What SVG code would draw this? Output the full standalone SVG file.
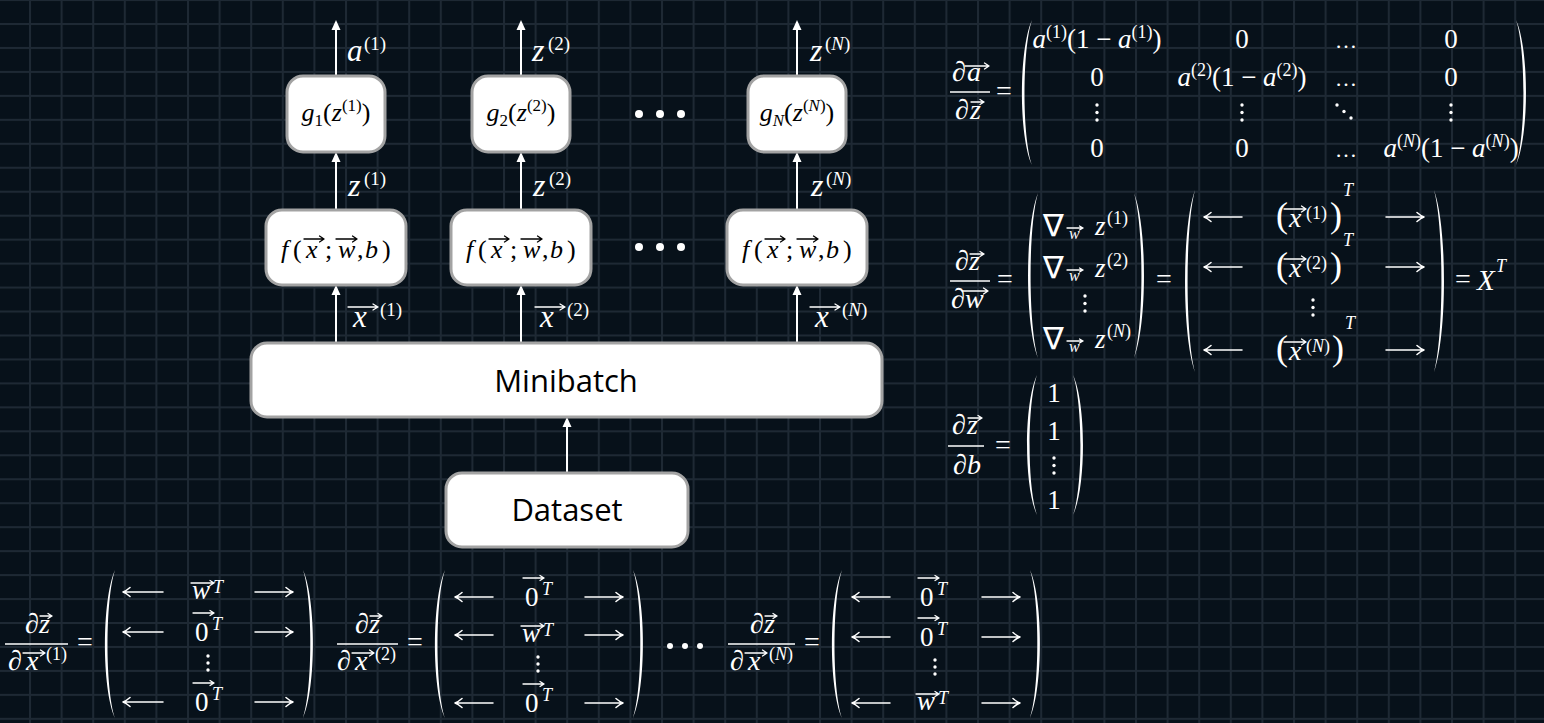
<svg xmlns="http://www.w3.org/2000/svg" width="1544" height="723" viewBox="0 0 1544 723">
<defs>
<style>
.t{font-family:"Liberation Serif","DejaVu Serif",serif;fill:#fff}
.k{font-family:"Liberation Serif","DejaVu Serif",serif;fill:#000}
.i{font-style:italic}
.nb{font-family:"DejaVu Sans","DejaVu Serif",serif;fill:#fff;font-size:31px}
.sans{font-family:"Open Sans","Liberation Sans",sans-serif;fill:#000;font-size:31px}
.box{fill:#fff;stroke:#a3a3a3;stroke-width:3}
.flow{stroke:#fff;stroke-width:2;fill:none;marker-end:url(#ah)}
.va{stroke:#fff;stroke-width:1.3;fill:none;stroke-linecap:round;stroke-linejoin:round}
.vak{stroke:#000;stroke-width:1.3;fill:none;stroke-linecap:round;stroke-linejoin:round}
.ar{stroke:#fff;stroke-width:1.5;fill:none;stroke-linecap:round;stroke-linejoin:round}
.bar{stroke:#fff;stroke-width:1.4}
.bp{fill:#fff}
.dot{fill:#fff}
</style>
<pattern id="grid" width="31.6" height="23.96" patternUnits="userSpaceOnUse" x="29" y="23">
<rect width="31.6" height="23.96" fill="#07111a"/>
<rect width="2" height="23.96" fill="#1e2934"/>
<rect width="31.6" height="2" fill="#1e2934"/>
</pattern>
<marker id="ah" markerWidth="10" markerHeight="10" refX="8" refY="5" orient="auto" markerUnits="userSpaceOnUse">
<path d="M0,0.5 L10,5 L0,9.5 Z" fill="#fff"/>
</marker>
</defs>
<rect width="1544" height="723" fill="url(#grid)"/>

<g id="connectors">
<line class="flow" x1="336" y1="343" x2="336" y2="287"/>
<line class="flow" x1="336" y1="210" x2="336" y2="154"/>
<line class="flow" x1="336" y1="76" x2="336" y2="22"/>
<line class="flow" x1="521" y1="343" x2="521" y2="287"/>
<line class="flow" x1="521" y1="210" x2="521" y2="154"/>
<line class="flow" x1="521" y1="76" x2="521" y2="22"/>
<line class="flow" x1="797" y1="343" x2="797" y2="287"/>
<line class="flow" x1="797" y1="210" x2="797" y2="154"/>
<line class="flow" x1="797" y1="76" x2="797" y2="22"/>
<line class="flow" x1="567" y1="473" x2="567" y2="419"/>
</g>

<g id="edge-labels">
<text class="t" y="61"><tspan class="i" x="347" font-size="31">a</tspan><tspan x="364" dy="-11" font-size="19">(1)</tspan></text>
<text class="t" y="61"><tspan class="i" x="532" font-size="32">z</tspan><tspan x="548" dy="-11" font-size="19">(2)</tspan></text>
<text class="t" y="61"><tspan class="i" x="810" font-size="32">z</tspan><tspan x="825" dy="-11" font-size="19">(</tspan><tspan class="i" font-size="19">N</tspan><tspan font-size="19">)</tspan></text>
<text class="t" y="196"><tspan class="i" x="348" font-size="32">z</tspan><tspan x="364" dy="-11" font-size="19">(1)</tspan></text>
<text class="t" y="196"><tspan class="i" x="533" font-size="32">z</tspan><tspan x="549" dy="-11" font-size="19">(2)</tspan></text>
<text class="t" y="196"><tspan class="i" x="811" font-size="32">z</tspan><tspan x="826" dy="-11" font-size="19">(</tspan><tspan class="i" font-size="19">N</tspan><tspan font-size="19">)</tspan></text>
<text class="t" y="327"><tspan class="i" x="353" font-size="31">x</tspan><tspan x="380" dy="-11" font-size="19">(1)</tspan></text>
<text class="t" y="327"><tspan class="i" x="540" font-size="31">x</tspan><tspan x="567" dy="-11" font-size="19">(2)</tspan></text>
<text class="t" y="327"><tspan class="i" x="815" font-size="31">x</tspan><tspan x="842" dy="-11" font-size="19">(</tspan><tspan class="i" font-size="19">N</tspan><tspan font-size="19">)</tspan></text>
<path class="va" d="M348,307 H378 M373,304 L378,307 L373,310"/>
<path class="va" d="M535,307 H565 M560,304 L565,307 L560,310"/>
<path class="va" d="M810,307 H840 M835,304 L840,307 L835,310"/>
<circle class="dot" cx="639" cy="114" r="4"/><circle class="dot" cx="660" cy="114" r="4"/><circle class="dot" cx="681" cy="114" r="4"/>
<circle class="dot" cx="639" cy="247" r="4"/><circle class="dot" cx="660" cy="247" r="4"/><circle class="dot" cx="681" cy="247" r="4"/>
</g>

<g id="node-g1">
<rect class="box" x="287" y="76" width="98" height="76" rx="16"/>
<text class="k" x="336" y="121" text-anchor="middle" font-size="26"><tspan class="i">g</tspan><tspan font-size="17" dy="5">1</tspan><tspan dy="-5">(</tspan><tspan class="i">z</tspan><tspan font-size="17" dy="-10">(1)</tspan><tspan dy="10">)</tspan></text>
</g>
<g id="node-g2">
<rect class="box" x="472" y="76" width="98" height="76" rx="16"/>
<text class="k" x="521" y="121" text-anchor="middle" font-size="26"><tspan class="i">g</tspan><tspan font-size="17" dy="5">2</tspan><tspan dy="-5">(</tspan><tspan class="i">z</tspan><tspan font-size="17" dy="-10">(2)</tspan><tspan dy="10">)</tspan></text>
</g>
<g id="node-gN">
<rect class="box" x="748" y="76" width="98" height="76" rx="16"/>
<text class="k" x="797" y="121" text-anchor="middle" font-size="26"><tspan class="i">g</tspan><tspan class="i" font-size="17" dy="5">N</tspan><tspan dy="-5">(</tspan><tspan class="i">z</tspan><tspan font-size="17" dy="-10">(</tspan><tspan class="i" font-size="17">N</tspan><tspan font-size="17">)</tspan><tspan dy="10">)</tspan></text>
</g>

<g id="node-f1">
<rect class="box" x="266" y="210" width="140" height="75" rx="16"/>
<text class="k" y="258" font-size="26"><tspan class="i" x="281">f</tspan><tspan x="293">(</tspan><tspan class="i" x="306">x</tspan><tspan x="325">;</tspan><tspan class="i" x="338">w</tspan><tspan x="357">,</tspan><tspan class="i" x="365">b</tspan><tspan x="382">)</tspan></text>
<path class="vak" d="M304,239 H324 M319.5,236 L324,239 L319.5,242 M336,239 H357 M352.5,236 L357,239 L352.5,242"/>
</g>
<g id="node-f2">
<rect class="box" x="451" y="210" width="140" height="75" rx="16"/>
<text class="k" y="258" font-size="26"><tspan class="i" x="466">f</tspan><tspan x="478">(</tspan><tspan class="i" x="491">x</tspan><tspan x="510">;</tspan><tspan class="i" x="523">w</tspan><tspan x="542">,</tspan><tspan class="i" x="550">b</tspan><tspan x="567">)</tspan></text>
<path class="vak" d="M489,239 H509 M504.5,236 L509,239 L504.5,242 M521,239 H542 M537.5,236 L542,239 L537.5,242"/>
</g>
<g id="node-fN">
<rect class="box" x="727" y="210" width="140" height="75" rx="16"/>
<text class="k" y="258" font-size="26"><tspan class="i" x="742">f</tspan><tspan x="754">(</tspan><tspan class="i" x="767">x</tspan><tspan x="786">;</tspan><tspan class="i" x="799">w</tspan><tspan x="818">,</tspan><tspan class="i" x="826">b</tspan><tspan x="843">)</tspan></text>
<path class="vak" d="M765,239 H785 M780.5,236 L785,239 L780.5,242 M797,239 H818 M813.5,236 L818,239 L813.5,242"/>
</g>

<g id="node-minibatch">
<rect class="box" x="251" y="343" width="631" height="74" rx="16"/>
<text class="sans" x="566" y="392" text-anchor="middle">Minibatch</text>
</g>
<g id="node-dataset">
<rect class="box" x="446" y="473" width="242" height="74" rx="16"/>
<text class="sans" x="567" y="521" text-anchor="middle">Dataset</text>
</g>

<g id="eq-da-dz">
<text class="t i" y="81" font-size="28"><tspan x="952">∂</tspan><tspan x="967">a</tspan></text>
<path class="va" d="M965,66 H989 M984.5,63 L989,66 L984.5,69"/>
<line class="bar" x1="950" y1="92" x2="990" y2="92"/>
<text class="t i" y="119" font-size="28"><tspan x="955">∂</tspan><tspan x="970">z</tspan></text>
<path class="va" d="M971,102 H984 M980,99.5 L984,102 L980,104.5"/>
<text class="t" x="996" y="100" font-size="28">=</text>
<path class="bp" d="M1032,20 C1018.7,49 1018.7,136 1032,165 C1022.1,136 1022.1,49 1032,20 Z"/>
<path class="bp" d="M1516,20 C1529.3,49 1529.3,136 1516,165 C1525.9,136 1525.9,49 1516,20 Z"/>
<g font-size="27">
<text class="t" x="1097" y="48" text-anchor="middle"><tspan class="i">a</tspan><tspan font-size="18" dy="-10">(1)</tspan><tspan dy="10">(1 − </tspan><tspan class="i">a</tspan><tspan font-size="18" dy="-10">(1)</tspan><tspan dy="10">)</tspan></text>
<text class="t" x="1242" y="48" text-anchor="middle">0</text>
<text class="t" x="1346" y="48" text-anchor="middle" font-size="22">…</text>
<text class="t" x="1451" y="48" text-anchor="middle">0</text>
<text class="t" x="1097" y="86" text-anchor="middle">0</text>
<text class="t" x="1242" y="86" text-anchor="middle"><tspan class="i">a</tspan><tspan font-size="18" dy="-10">(2)</tspan><tspan dy="10">(1 − </tspan><tspan class="i">a</tspan><tspan font-size="18" dy="-10">(2)</tspan><tspan dy="10">)</tspan></text>
<text class="t" x="1346" y="86" text-anchor="middle" font-size="22">…</text>
<text class="t" x="1451" y="86" text-anchor="middle">0</text>
<text class="t" x="1097" y="157" text-anchor="middle">0</text>
<text class="t" x="1242" y="157" text-anchor="middle">0</text>
<text class="t" x="1346" y="157" text-anchor="middle" font-size="22">…</text>
<text class="t" x="1451" y="157" text-anchor="middle"><tspan class="i">a</tspan><tspan font-size="18" dy="-10">(</tspan><tspan class="i" font-size="18">N</tspan><tspan font-size="18">)</tspan><tspan dy="10">(1 − </tspan><tspan class="i">a</tspan><tspan font-size="18" dy="-10">(</tspan><tspan class="i" font-size="18">N</tspan><tspan font-size="18">)</tspan><tspan dy="10">)</tspan></text>
</g>
<circle class="dot" cx="1097" cy="105" r="1.7"/><circle class="dot" cx="1097" cy="112.5" r="1.7"/><circle class="dot" cx="1097" cy="120" r="1.7"/>
<circle class="dot" cx="1242" cy="105" r="1.7"/><circle class="dot" cx="1242" cy="112.5" r="1.7"/><circle class="dot" cx="1242" cy="120" r="1.7"/>
<circle class="dot" cx="1337" cy="105" r="1.7"/><circle class="dot" cx="1344" cy="111.5" r="1.7"/><circle class="dot" cx="1351" cy="118" r="1.7"/>
<circle class="dot" cx="1451" cy="105" r="1.7"/><circle class="dot" cx="1451" cy="112.5" r="1.7"/><circle class="dot" cx="1451" cy="120" r="1.7"/>
</g>

<g id="eq-dz-dw">
<text class="t i" y="270" font-size="28"><tspan x="955">∂</tspan><tspan x="969">z</tspan></text>
<path class="va" d="M970,254 H984 M980,251.5 L984,254 L980,256.5"/>
<line class="bar" x1="950" y1="281" x2="990" y2="281"/>
<text class="t i" y="308" font-size="28"><tspan x="951">∂</tspan><tspan x="965">w</tspan></text>
<path class="va" d="M962,291 H988 M983.5,288 L988,291 L983.5,294"/>
<text class="t" x="997" y="288" font-size="28">=</text>
<path class="bp" d="M1038,193 C1024.7,226 1024.7,325 1038,358 C1028.1,325 1028.1,226 1038,193 Z"/>
<path class="bp" d="M1134,193 C1147.3,226 1147.3,325 1134,358 C1143.9,325 1143.9,226 1134,193 Z"/>
<text class="nb" x="1043" y="236">∇</text>
<text class="nb" x="1043" y="278">∇</text>
<text class="nb" x="1043" y="349">∇</text>
<text class="t i" x="1069" y="239" font-size="16">w</text>
<text class="t i" x="1069" y="281" font-size="16">w</text>
<text class="t i" x="1069" y="352" font-size="16">w</text>
<path class="va" d="M1067,228 H1083 M1079.5,226 L1083,228 L1079.5,230 M1067,270 H1083 M1079.5,268 L1083,270 L1079.5,272 M1067,341 H1083 M1079.5,339 L1083,341 L1079.5,343"/>
<text class="t" y="235"><tspan class="i" x="1095" font-size="27">z</tspan><tspan x="1107" dy="-11" font-size="18">(1)</tspan></text>
<text class="t" y="277"><tspan class="i" x="1095" font-size="27">z</tspan><tspan x="1107" dy="-11" font-size="18">(2)</tspan></text>
<text class="t" y="348"><tspan class="i" x="1095" font-size="27">z</tspan><tspan x="1107" dy="-11" font-size="18">(</tspan><tspan class="i" font-size="18">N</tspan><tspan font-size="18">)</tspan></text>
<circle class="dot" cx="1085" cy="296" r="1.7"/><circle class="dot" cx="1085" cy="303.5" r="1.7"/><circle class="dot" cx="1085" cy="311" r="1.7"/>
<text class="t" x="1156" y="288" font-size="28">=</text>
<path class="bp" d="M1195,190 C1181.7,226.4 1181.7,335.6 1195,372 C1185.1,335.6 1185.1,226.4 1195,190 Z"/>
<path class="bp" d="M1434,190 C1447.3,226.4 1447.3,335.6 1434,372 C1443.9,335.6 1443.9,226.4 1434,190 Z"/>
<path class="ar" d="M1242,217 H1204 M1211,212.5 Q1207,216 1204,217 Q1207,218 1211,221.5 M1386,217 H1424 M1417,212.5 Q1421,216 1424,217 Q1421,218 1417,221.5"/>
<path class="ar" d="M1242,267 H1204 M1211,262.5 Q1207,266 1204,267 Q1207,268 1211,271.5 M1386,267 H1424 M1417,262.5 Q1421,266 1424,267 Q1421,268 1417,271.5"/>
<path class="ar" d="M1242,350 H1204 M1211,345.5 Q1207,349 1204,350 Q1207,351 1211,354.5 M1386,350 H1424 M1417,345.5 Q1421,349 1424,350 Q1421,351 1417,354.5"/>
<text class="t" y="227"><tspan x="1276" font-size="36">(</tspan><tspan class="i" x="1289" font-size="28">x</tspan><tspan x="1306" dy="-8" font-size="18">(1)</tspan><tspan x="1330" dy="8" font-size="36">)</tspan><tspan class="i" x="1343" dy="-31" font-size="18">T</tspan></text>
<text class="t" y="277"><tspan x="1276" font-size="36">(</tspan><tspan class="i" x="1289" font-size="28">x</tspan><tspan x="1306" dy="-8" font-size="18">(2)</tspan><tspan x="1330" dy="8" font-size="36">)</tspan><tspan class="i" x="1343" dy="-31" font-size="18">T</tspan></text>
<text class="t" y="360"><tspan x="1276" font-size="36">(</tspan><tspan class="i" x="1289" font-size="28">x</tspan><tspan x="1306" dy="-8" font-size="18">(</tspan><tspan class="i" font-size="18">N</tspan><tspan font-size="18">)</tspan><tspan x="1332" dy="8" font-size="36">)</tspan><tspan class="i" x="1345" dy="-31" font-size="18">T</tspan></text>
<path class="va" d="M1284,209 H1306 M1301.5,206 L1306,209 L1301.5,212 M1284,259 H1306 M1301.5,256 L1306,259 L1301.5,262 M1284,342 H1306 M1301.5,339 L1306,342 L1301.5,345"/>
<circle class="dot" cx="1313" cy="300" r="1.7"/><circle class="dot" cx="1313" cy="307.5" r="1.7"/><circle class="dot" cx="1313" cy="315" r="1.7"/>
<text class="t" x="1455" y="288" font-size="28">=</text>
<text class="t i" y="290"><tspan x="1477" font-size="29">X</tspan><tspan x="1496" dy="-18" font-size="18">T</tspan></text>
</g>

<g id="eq-dz-db">
<text class="t i" y="434" font-size="28"><tspan x="952">∂</tspan><tspan x="967">z</tspan></text>
<path class="va" d="M968,418 H982 M978,415.5 L982,418 L978,420.5"/>
<line class="bar" x1="948" y1="446" x2="984" y2="446"/>
<text class="t i" y="474" font-size="28"><tspan x="953">∂</tspan><tspan x="967">b</tspan></text>
<text class="t" x="995" y="454" font-size="28">=</text>
<path class="bp" d="M1037,375 C1023.7,403 1023.7,487 1037,515 C1027.1,487 1027.1,403 1037,375 Z"/>
<path class="bp" d="M1073,375 C1086.3,403 1086.3,487 1073,515 C1082.9,487 1082.9,403 1073,375 Z"/>
<text class="t" x="1054" y="402" text-anchor="middle" font-size="27">1</text>
<text class="t" x="1054" y="440" text-anchor="middle" font-size="27">1</text>
<text class="t" x="1054" y="509" text-anchor="middle" font-size="27">1</text>
<circle class="dot" cx="1054" cy="458" r="1.7"/><circle class="dot" cx="1054" cy="465.5" r="1.7"/><circle class="dot" cx="1054" cy="473" r="1.7"/>
</g>

<g id="eq-dz-dx1">
<text class="t i" y="633" font-size="28"><tspan x="25">∂</tspan><tspan x="39">z</tspan></text>
<path class="va" d="M40,616 H52 M48,613.5 L52,616 L48,618.5"/>
<line class="bar" x1="5" y1="644" x2="68" y2="644"/>
<text class="t" y="670"><tspan class="i" x="8" font-size="28">∂</tspan><tspan class="i" x="26" font-size="28">x</tspan><tspan x="46" dy="-10" font-size="18">(1)</tspan></text>
<path class="va" d="M23,653 H45 M40.5,650 L45,653 L40.5,656"/>
<text class="t" x="77" y="651" font-size="28">=</text>
<path class="bp" d="M115,570 C101.7,599.6 101.7,688.4 115,718 C105.1,688.4 105.1,599.6 115,570 Z"/>
<path class="bp" d="M303,570 C316.3,599.6 316.3,688.4 303,718 C312.9,688.4 312.9,599.6 303,570 Z"/>
<path class="ar" d="M163,592 H123 M130,587.5 Q126,591 123,592 Q126,593 130,596.5 M255,592 H293 M286,587.5 Q290,591 293,592 Q290,593 286,596.5"/>
<path class="ar" d="M163,632 H123 M130,627.5 Q126,631 123,632 Q126,633 130,636.5 M255,632 H293 M286,627.5 Q290,631 293,632 Q290,633 286,636.5"/>
<path class="ar" d="M163,702 H123 M130,697.5 Q126,701 123,702 Q126,703 130,706.5 M255,702 H293 M286,697.5 Q290,701 293,702 Q290,703 286,706.5"/>
<text class="t i" x="192" y="599" font-size="27">w</text><text class="t i" x="213" y="593" font-size="18">T</text>
<text class="t" x="195" y="641" font-size="27">0</text><text class="t i" x="212" y="630" font-size="18">T</text>
<text class="t" x="195" y="711" font-size="27">0</text><text class="t i" x="212" y="700" font-size="18">T</text>
<path class="va" d="M191,583 H214 M210,580.5 L214,583 L210,585.5 M193,613 H214 M210,610.5 L214,613 L210,615.5 M193,683 H214 M210,680.5 L214,683 L210,685.5"/>
<circle class="dot" cx="208" cy="656" r="1.7"/><circle class="dot" cx="208" cy="663" r="1.7"/><circle class="dot" cx="208" cy="670" r="1.7"/>
</g>

<g id="eq-dz-dx2">
<text class="t i" y="633" font-size="28"><tspan x="355">∂</tspan><tspan x="369">z</tspan></text>
<path class="va" d="M370,616 H382 M378,613.5 L382,616 L378,618.5"/>
<line class="bar" x1="337" y1="644" x2="398" y2="644"/>
<text class="t" y="670"><tspan class="i" x="337" font-size="28">∂</tspan><tspan class="i" x="355" font-size="28">x</tspan><tspan x="375" dy="-10" font-size="18">(2)</tspan></text>
<path class="va" d="M352,653 H374 M369.5,650 L374,653 L369.5,656"/>
<text class="t" x="407" y="651" font-size="28">=</text>
<path class="bp" d="M445,570 C431.7,599.6 431.7,688.4 445,718 C435.1,688.4 435.1,599.6 445,570 Z"/>
<path class="bp" d="M633,570 C646.3,599.6 646.3,688.4 633,718 C642.9,688.4 642.9,599.6 633,570 Z"/>
<path class="ar" d="M493,597 H455 M462,592.5 Q458,596 455,597 Q458,598 462,601.5 M585,597 H623 M616,592.5 Q620,596 623,597 Q620,598 616,601.5"/>
<path class="ar" d="M493,635 H455 M462,630.5 Q458,634 455,635 Q458,636 462,639.5 M585,635 H623 M616,630.5 Q620,634 623,635 Q620,636 616,639.5"/>
<path class="ar" d="M493,703 H455 M462,698.5 Q458,702 455,703 Q458,704 462,707.5 M585,703 H623 M616,698.5 Q620,702 623,703 Q620,704 616,707.5"/>
<text class="t" x="525" y="606" font-size="27">0</text><text class="t i" x="542" y="595" font-size="18">T</text>
<text class="t i" x="522" y="642" font-size="27">w</text><text class="t i" x="543" y="636" font-size="18">T</text>
<text class="t" x="525" y="712" font-size="27">0</text><text class="t i" x="542" y="701" font-size="18">T</text>
<path class="va" d="M523,578 H544 M540,575.5 L544,578 L540,580.5 M521,626 H544 M540,623.5 L544,626 L540,628.5 M523,684 H544 M540,681.5 L544,684 L540,686.5"/>
<circle class="dot" cx="538" cy="657" r="1.7"/><circle class="dot" cx="538" cy="664" r="1.7"/><circle class="dot" cx="538" cy="671" r="1.7"/>
</g>

<g id="eq-dz-dxN">
<circle class="dot" cx="670" cy="646" r="3"/><circle class="dot" cx="685" cy="646" r="3"/><circle class="dot" cx="700" cy="646" r="3"/>
<text class="t i" y="633" font-size="28"><tspan x="750">∂</tspan><tspan x="764">z</tspan></text>
<path class="va" d="M765,616 H777 M773,613.5 L777,616 L773,618.5"/>
<line class="bar" x1="728" y1="644" x2="795" y2="644"/>
<text class="t" y="670"><tspan class="i" x="730" font-size="28">∂</tspan><tspan class="i" x="748" font-size="28">x</tspan><tspan x="769" dy="-10" font-size="18">(</tspan><tspan class="i" font-size="18">N</tspan><tspan font-size="18">)</tspan></text>
<path class="va" d="M745,653 H767 M762.5,650 L767,653 L762.5,656"/>
<text class="t" x="804" y="651" font-size="28">=</text>
<path class="bp" d="M842,570 C828.7,599.6 828.7,688.4 842,718 C832.1,688.4 832.1,599.6 842,570 Z"/>
<path class="bp" d="M1030,570 C1043.3,599.6 1043.3,688.4 1030,718 C1039.9,688.4 1039.9,599.6 1030,570 Z"/>
<path class="ar" d="M890,597 H852 M859,592.5 Q855,596 852,597 Q855,598 859,601.5 M982,597 H1020 M1013,592.5 Q1017,596 1020,597 Q1017,598 1013,601.5"/>
<path class="ar" d="M890,637 H852 M859,632.5 Q855,636 852,637 Q855,638 859,641.5 M982,637 H1020 M1013,632.5 Q1017,636 1020,637 Q1017,638 1013,641.5"/>
<path class="ar" d="M890,703 H852 M859,698.5 Q855,702 852,703 Q855,704 859,707.5 M982,703 H1020 M1013,698.5 Q1017,702 1020,703 Q1017,704 1013,707.5"/>
<text class="t" x="920" y="606" font-size="27">0</text><text class="t i" x="937" y="595" font-size="18">T</text>
<text class="t" x="920" y="646" font-size="27">0</text><text class="t i" x="937" y="635" font-size="18">T</text>
<text class="t i" x="917" y="710" font-size="27">w</text><text class="t i" x="938" y="704" font-size="18">T</text>
<path class="va" d="M918,578 H939 M935,575.5 L939,578 L935,580.5 M918,618 H939 M935,615.5 L939,618 L935,620.5 M916,694 H939 M935,691.5 L939,694 L935,696.5"/>
<circle class="dot" cx="935" cy="660" r="1.7"/><circle class="dot" cx="935" cy="667" r="1.7"/><circle class="dot" cx="935" cy="674" r="1.7"/>
</g>
</svg>
